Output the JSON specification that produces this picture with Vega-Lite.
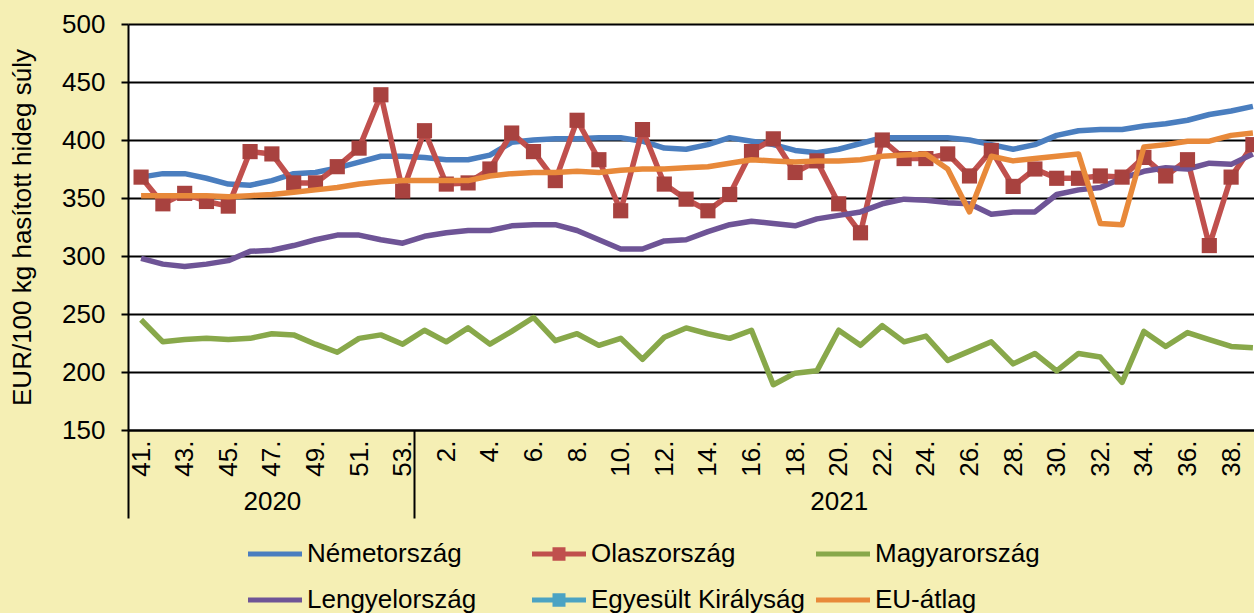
{
  "$schema": "https://vega.github.io/schema/vega-lite/v6.json",
  "width": 1126,
  "height": 406,
  "autosize": {"type": "none"},
  "padding": {"left": 128, "top": 24, "right": 0, "bottom": 183},
  "background": "#F5EFB4",
  "config": {
    "font": "Liberation Sans",
    "view": {"fill": "white", "stroke": null},
    "axis": {"labelColor": "black", "titleColor": "black", "labelFont": "Liberation Sans", "titleFont": "Liberation Sans"}
  },
  "data": {
    "values": [
      {"i": 0, "week": "41.", "year": "2020", "Németország": 368, "Olaszország": 368, "Magyarország": 245, "Lengyelország": 298, "EU-átlag": 352},
      {"i": 1, "week": "42.", "year": "2020", "Németország": 371, "Olaszország": 345, "Magyarország": 226, "Lengyelország": 293, "EU-átlag": 352},
      {"i": 2, "week": "43.", "year": "2020", "Németország": 371, "Olaszország": 354, "Magyarország": 228, "Lengyelország": 291, "EU-átlag": 352},
      {"i": 3, "week": "44.", "year": "2020", "Németország": 367, "Olaszország": 347, "Magyarország": 229, "Lengyelország": 293, "EU-átlag": 352},
      {"i": 4, "week": "45.", "year": "2020", "Németország": 362, "Olaszország": 343, "Magyarország": 228, "Lengyelország": 296, "EU-átlag": 351},
      {"i": 5, "week": "46.", "year": "2020", "Németország": 361, "Olaszország": 390, "Magyarország": 229, "Lengyelország": 304, "EU-átlag": 352},
      {"i": 6, "week": "47.", "year": "2020", "Németország": 365, "Olaszország": 388, "Magyarország": 233, "Lengyelország": 305, "EU-átlag": 353},
      {"i": 7, "week": "48.", "year": "2020", "Németország": 371, "Olaszország": 363, "Magyarország": 232, "Lengyelország": 309, "EU-átlag": 355},
      {"i": 8, "week": "49.", "year": "2020", "Németország": 372, "Olaszország": 363, "Magyarország": 224, "Lengyelország": 314, "EU-átlag": 357},
      {"i": 9, "week": "50.", "year": "2020", "Németország": 376, "Olaszország": 377, "Magyarország": 217, "Lengyelország": 318, "EU-átlag": 359},
      {"i": 10, "week": "51.", "year": "2020", "Németország": 381, "Olaszország": 393, "Magyarország": 229, "Lengyelország": 318, "EU-átlag": 362},
      {"i": 11, "week": "52.", "year": "2020", "Németország": 386, "Olaszország": 439, "Magyarország": 232, "Lengyelország": 314, "EU-átlag": 364},
      {"i": 12, "week": "53.", "year": "2020", "Németország": 386, "Olaszország": 356, "Magyarország": 224, "Lengyelország": 311, "EU-átlag": 365},
      {"i": 13, "week": "1.", "year": "2021", "Németország": 385, "Olaszország": 408, "Magyarország": 236, "Lengyelország": 317, "EU-átlag": 365},
      {"i": 14, "week": "2.", "year": "2021", "Németország": 383, "Olaszország": 362, "Magyarország": 226, "Lengyelország": 320, "EU-átlag": 365},
      {"i": 15, "week": "3.", "year": "2021", "Németország": 383, "Olaszország": 363, "Magyarország": 238, "Lengyelország": 322, "EU-átlag": 365},
      {"i": 16, "week": "4.", "year": "2021", "Németország": 387, "Olaszország": 375, "Magyarország": 224, "Lengyelország": 322, "EU-átlag": 369},
      {"i": 17, "week": "5.", "year": "2021", "Németország": 398, "Olaszország": 406, "Magyarország": 235, "Lengyelország": 326, "EU-átlag": 371},
      {"i": 18, "week": "6.", "year": "2021", "Németország": 400, "Olaszország": 390, "Magyarország": 247, "Lengyelország": 327, "EU-átlag": 372},
      {"i": 19, "week": "7.", "year": "2021", "Németország": 401, "Olaszország": 365, "Magyarország": 227, "Lengyelország": 327, "EU-átlag": 372},
      {"i": 20, "week": "8.", "year": "2021", "Németország": 401, "Olaszország": 417, "Magyarország": 233, "Lengyelország": 322, "EU-átlag": 373},
      {"i": 21, "week": "9.", "year": "2021", "Németország": 402, "Olaszország": 383, "Magyarország": 223, "Lengyelország": 314, "EU-átlag": 372},
      {"i": 22, "week": "10.", "year": "2021", "Németország": 402, "Olaszország": 339, "Magyarország": 229, "Lengyelország": 306, "EU-átlag": 374},
      {"i": 23, "week": "11.", "year": "2021", "Németország": 399, "Olaszország": 409, "Magyarország": 211, "Lengyelország": 306, "EU-átlag": 375},
      {"i": 24, "week": "12.", "year": "2021", "Németország": 393, "Olaszország": 362, "Magyarország": 230, "Lengyelország": 313, "EU-átlag": 375},
      {"i": 25, "week": "13.", "year": "2021", "Németország": 392, "Olaszország": 349, "Magyarország": 238, "Lengyelország": 314, "EU-átlag": 376},
      {"i": 26, "week": "14.", "year": "2021", "Németország": 396, "Olaszország": 339, "Magyarország": 233, "Lengyelország": 321, "EU-átlag": 377},
      {"i": 27, "week": "15.", "year": "2021", "Németország": 402, "Olaszország": 353, "Magyarország": 229, "Lengyelország": 327, "EU-átlag": 380},
      {"i": 28, "week": "16.", "year": "2021", "Németország": 399, "Olaszország": 390, "Magyarország": 236, "Lengyelország": 330, "EU-átlag": 383},
      {"i": 29, "week": "17.", "year": "2021", "Németország": 396, "Olaszország": 401, "Magyarország": 189, "Lengyelország": 328, "EU-átlag": 382},
      {"i": 30, "week": "18.", "year": "2021", "Németország": 391, "Olaszország": 372, "Magyarország": 199, "Lengyelország": 326, "EU-átlag": 381},
      {"i": 31, "week": "19.", "year": "2021", "Németország": 389, "Olaszország": 382, "Magyarország": 201, "Lengyelország": 332, "EU-átlag": 382},
      {"i": 32, "week": "20.", "year": "2021", "Németország": 392, "Olaszország": 345, "Magyarország": 236, "Lengyelország": 335, "EU-átlag": 382},
      {"i": 33, "week": "21.", "year": "2021", "Németország": 397, "Olaszország": 320, "Magyarország": 223, "Lengyelország": 338, "EU-átlag": 383},
      {"i": 34, "week": "22.", "year": "2021", "Németország": 402, "Olaszország": 400, "Magyarország": 240, "Lengyelország": 345, "EU-átlag": 386},
      {"i": 35, "week": "23.", "year": "2021", "Németország": 402, "Olaszország": 384, "Magyarország": 226, "Lengyelország": 349, "EU-átlag": 387},
      {"i": 36, "week": "24.", "year": "2021", "Németország": 402, "Olaszország": 384, "Magyarország": 231, "Lengyelország": 348, "EU-átlag": 388},
      {"i": 37, "week": "25.", "year": "2021", "Németország": 402, "Olaszország": 388, "Magyarország": 210, "Lengyelország": 346, "EU-átlag": 375},
      {"i": 38, "week": "26.", "year": "2021", "Németország": 400, "Olaszország": 369, "Magyarország": 218, "Lengyelország": 345, "EU-átlag": 338},
      {"i": 39, "week": "27.", "year": "2021", "Németország": 396, "Olaszország": 391, "Magyarország": 226, "Lengyelország": 336, "EU-átlag": 386},
      {"i": 40, "week": "28.", "year": "2021", "Németország": 392, "Olaszország": 360, "Magyarország": 207, "Lengyelország": 338, "EU-átlag": 382},
      {"i": 41, "week": "29.", "year": "2021", "Németország": 396, "Olaszország": 375, "Magyarország": 216, "Lengyelország": 338, "EU-átlag": 384},
      {"i": 42, "week": "30.", "year": "2021", "Németország": 404, "Olaszország": 367, "Magyarország": 201, "Lengyelország": 353, "EU-átlag": 386},
      {"i": 43, "week": "31.", "year": "2021", "Németország": 408, "Olaszország": 367, "Magyarország": 216, "Lengyelország": 357, "EU-átlag": 388},
      {"i": 44, "week": "32.", "year": "2021", "Németország": 409, "Olaszország": 369, "Magyarország": 213, "Lengyelország": 359, "EU-átlag": 328},
      {"i": 45, "week": "33.", "year": "2021", "Németország": 409, "Olaszország": 368, "Magyarország": 191, "Lengyelország": 367, "EU-átlag": 327},
      {"i": 46, "week": "34.", "year": "2021", "Németország": 412, "Olaszország": 385, "Magyarország": 235, "Lengyelország": 373, "EU-átlag": 394},
      {"i": 47, "week": "35.", "year": "2021", "Németország": 414, "Olaszország": 369, "Magyarország": 222, "Lengyelország": 376, "EU-átlag": 396},
      {"i": 48, "week": "36.", "year": "2021", "Németország": 417, "Olaszország": 383, "Magyarország": 234, "Lengyelország": 375, "EU-átlag": 399},
      {"i": 49, "week": "37.", "year": "2021", "Németország": 422, "Olaszország": 309, "Magyarország": 228, "Lengyelország": 380, "EU-átlag": 399},
      {"i": 50, "week": "38.", "year": "2021", "Németország": 425, "Olaszország": 368, "Magyarország": 222, "Lengyelország": 379, "EU-átlag": 404},
      {"i": 51, "week": "39.", "year": "2021", "Németország": 429, "Olaszország": 396, "Magyarország": 221, "Lengyelország": 388, "EU-átlag": 406}
    ]
  },
  "transform": [
    {"fold": ["Németország", "Olaszország", "Magyarország", "Lengyelország", "EU-átlag"], "as": ["country", "value"]}
  ],
  "resolve": {"axis": {"x": "independent"}},
  "layer": [
    {
      "transform": [{"filter": "datum.country !== 'EU-átlag'"}],
      "mark": {"type": "line", "strokeWidth": 5.5, "strokeJoin": "round"},
      "encoding": {
        "x": {
          "field": "i", "type": "quantitative",
          "scale": {"domain": [-0.6, 51.05], "nice": false, "zero": false},
          "axis": {
            "orient": "bottom",
            "values": [0, 2, 4, 6, 8, 10, 12, 14, 16, 18, 20, 22, 24, 26, 28, 30, 32, 34, 36, 38, 40, 42, 44, 46, 48, 50],
            "labelExpr": "datum.value <= 12 ? (datum.value + 41) + '.' : (datum.value - 12) + '.'",
            "labelAngle": 270, "labelFontSize": 26, "labelPadding": 10,
            "labelOverlap": false, "labelFlush": false, "labelBound": false,
            "ticks": false, "grid": false, "title": null,
            "domain": true, "domainColor": "black", "domainWidth": 2
          }
        },
        "y": {
          "field": "value", "type": "quantitative",
          "scale": {"domain": [150, 500], "nice": false, "zero": false},
          "axis": {
            "title": "EUR/100 kg hasított hideg súly", "titleFontSize": 26, "titleFontWeight": "normal", "titlePadding": 26,
            "values": [150, 200, 250, 300, 350, 400, 450, 500],
            "labelFontSize": 26, "labelPadding": 16, "tickSize": 7, "tickColor": "black", "tickWidth": 2,
            "domainColor": "black", "domainWidth": 2, "grid": true, "gridColor": "black", "gridWidth": 2
          }
        },
        "color": {
          "field": "country", "type": "nominal",
          "scale": {
            "domain": ["Németország", "Olaszország", "Magyarország", "Lengyelország", "Egyesült Királyság", "EU-átlag"],
            "range": ["#4A7EBF", "#C0504D", "#88A84A", "#6E5496", "#4BA3C3", "#E8893A"]
          },
          "legend": {
            "orient": "none", "legendX": 120, "legendY": 517, "columns": 3, "direction": "horizontal",
            "title": null, "padding": 0, "gridAlign": "all", "columnPadding": 11, "rowPadding": 20,
            "symbolSize": 676, "symbolStrokeWidth": 0, "labelOffset": 33, "labelFontSize": 26, "labelLimit": 400,
            "labelColor": "black", "labelFont": "Liberation Sans",
            "encode": {
              "symbols": {
                "update": {
                  "shape": {"signal": "datum.value === 'Olaszország' || datum.value === 'Egyesült Királyság' ? 'M-1,-0.2H3.154V0.2H-1Z M0.577,-0.52H1.577V0.52H0.577Z' : 'M-1,-0.2H3.154V0.2H-1Z'"},
                  "fill": {"scale": "color", "field": "value"},
                  "fillOpacity": {"value": 1},
                  "strokeWidth": {"value": 0}
                }
              }
            }
          }
        }
      }
    },
    {
      "transform": [{"filter": "datum.country === 'Olaszország'"}],
      "mark": {"type": "point", "shape": "square", "filled": true, "size": 230, "color": "#A8423F", "opacity": 1},
      "encoding": {
        "x": {
          "field": "i", "type": "quantitative",
          "scale": {"domain": [-0.6, 51.05], "nice": false, "zero": false},
          "axis": {
            "orient": "bottom",
            "values": [-0.58, 6, 12.5, 32],
            "labelExpr": "datum.value == 6 ? '2020' : (datum.value == 32 ? '2021' : '')",
            "labelAngle": 0, "labelFontSize": 26, "labelPadding": -17, "labelBaseline": "middle",
            "labelOverlap": false, "labelFlush": false, "labelBound": false,
            "ticks": true, "tickSize": 88, "tickWidth": 2,
            "tickColor": {"condition": {"test": "datum.value == 6 || datum.value == 32", "value": "transparent"}, "value": "black"},
            "grid": false, "title": null, "domain": false
          }
        },
        "y": {
          "field": "value", "type": "quantitative",
          "scale": {"domain": [150, 500], "nice": false, "zero": false}
        }
      }
    },
    {
      "transform": [{"filter": "datum.country === 'EU-átlag'"}],
      "mark": {"type": "line", "strokeWidth": 5.5, "strokeJoin": "round"},
      "encoding": {
        "x": {
          "field": "i", "type": "quantitative",
          "scale": {"domain": [-0.6, 51.05], "nice": false, "zero": false},
          "axis": null
        },
        "y": {
          "field": "value", "type": "quantitative",
          "scale": {"domain": [150, 500], "nice": false, "zero": false}
        },
        "color": {"field": "country", "type": "nominal"}
      }
    }
  ]
}
